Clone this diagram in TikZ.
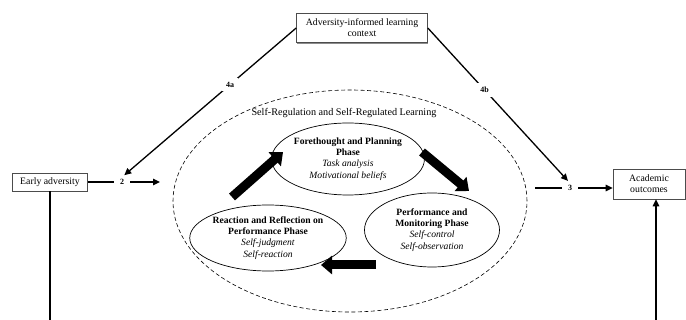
\documentclass[tikz,border=0pt]{standalone}
\usepackage{fontspec}
\setmainfont{Liberation Serif}
\usetikzlibrary{shapes.geometric,arrows.meta,shadows}
\begin{document}
\begin{tikzpicture}[x=1pt,y=-1pt,
 box/.style={draw=black!70, line width=0.6pt, fill=white, align=center, font=\fontsize{9.8}{11}\selectfont, inner sep=0pt, drop shadow={shadow xshift=0.6pt, shadow yshift=-1.4pt, fill=black!45, opacity=1}},
 phase/.style={draw, ellipse, line width=0.7pt, align=center, font=\fontsize{9.6}{11.2}\selectfont, inner sep=0pt},
 conn/.style={line width=1.3pt},
 arr/.style={conn, -{Triangle[length=7pt,width=6.5pt]}},
 lbl/.style={font=\bfseries\fontsize{8}{9}\selectfont, inner sep=2pt},
 blk/.style={line width=9pt, -{Triangle[length=11pt,width=18pt]}}
]
\useasboundingbox (0,0) rectangle (686,320);
\node[box, minimum width=131pt, minimum height=29pt] (ctx) at (362,28) {Adversity-informed learning\\context};
\node[box, minimum width=75pt, minimum height=18pt] (ea) at (50,182) {Early adversity};
\node[box, minimum width=72pt, minimum height=30pt] (ao) at (649,184) {Academic\\outcomes};
\node[draw, ellipse, dash pattern=on 4pt off 2.5pt, line width=0.6pt, minimum width=354pt, minimum height=222pt, inner sep=0pt] (sr) at (350,201) {};
\node[font=\fontsize{10.2}{11}\selectfont] (srl) at (344,113) {Self-Regulation and Self-Regulated Learning};
\node[phase, minimum width=134pt, minimum height=72pt] (fp) at (348,159) {\textbf{Forethought and Planning}\\\textbf{Phase}\\\textit{Task analysis}\\\textit{Motivational beliefs}};
\node[phase, minimum width=135pt, minimum height=74pt] (pm) at (432,230) {\textbf{Performance and}\\\textbf{Monitoring Phase}\\\textit{Self-control}\\\textit{Self-observation}};
\node[phase, minimum width=137pt, minimum height=66pt] (rr) at (268,238) {\textbf{Reaction and Reflection on}\\\textbf{Performance Phase}\\\textit{Self-judgment}\\\textit{Self-reaction}};
% block arrows
\coordinate (b1s) at (232,197); \coordinate (b1e) at (283,152);
\coordinate (b2s) at (422,152); \coordinate (b2e) at (469,191);
\coordinate (b3s) at (376,265); \coordinate (b3e) at (321,265);
\draw[blk] (b1s) -- (b1e);
\draw[blk] (b2s) -- (b2e);
\draw[blk] (b3s) -- (b3e);
% labels and connectors
\node[lbl, inner xsep=6pt] (two) at (122,182) {2};
\node[lbl, inner xsep=6pt] (three) at (570,188) {3};
\coordinate (a2) at (160,182);
\coordinate (b3) at (535,188);
\draw[conn] (ea.east) -- (two);
\draw[arr] (two) -- (a2);
\draw[conn] (b3) -- (three);
\draw[arr] (three) -- (ao.west |- three);
\draw[arr, shorten >=3pt] (ctx.west) -- node[lbl, fill=white, pos=0.38, inner sep=4pt] {4a} (two.north);
\draw[arr, shorten >=3pt] (ctx.east) -- node[lbl, fill=white, pos=0.40, inner sep=4pt] {4b} (three.north);
\coordinate (eb) at (50,320);
\coordinate (ab) at (656,320);
\draw[conn] (ea.south) -- (eb);
\draw[arr] (ab) -- (ao.south -| ab);
\end{tikzpicture}
\end{document}
